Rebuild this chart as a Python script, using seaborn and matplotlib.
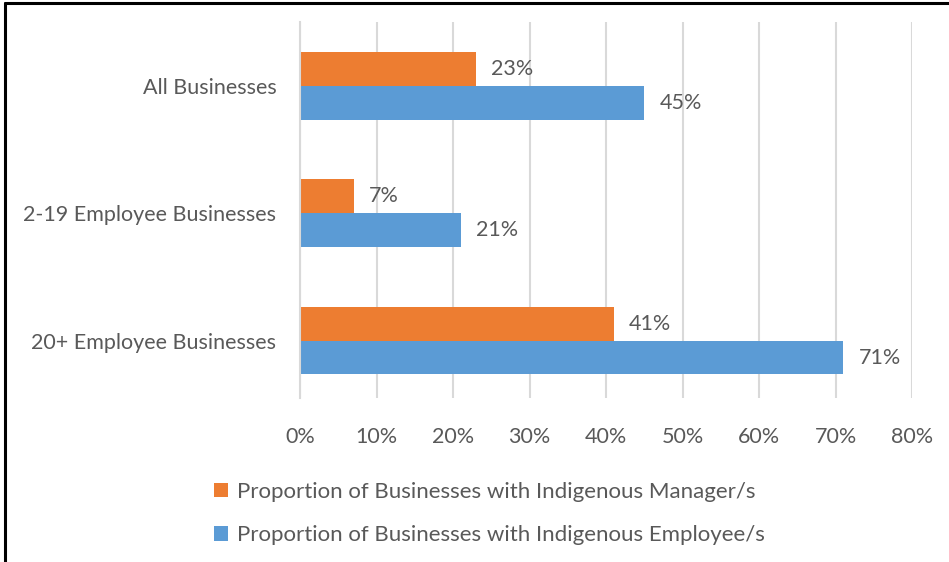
import matplotlib
matplotlib.use("Agg")
import matplotlib.pyplot as plt
import seaborn as sns
import pandas as pd
from matplotlib.lines import Line2D
from matplotlib.patches import Patch

categories = ["All Businesses", "2-19 Employee Businesses", "20+ Employee Businesses"]
series_names = ["Proportion of Businesses with Indigenous Manager/s",
                "Proportion of Businesses with Indigenous Employee/s"]
manager_vals = [0.23, 0.07, 0.41]
employee_vals = [0.45, 0.21, 0.71]
xtick_vals = [0.0, 0.1, 0.2, 0.3, 0.4, 0.5, 0.6, 0.7, 0.8]
xtick_labels = ["0%", "10%", "20%", "30%", "40%", "50%", "60%", "70%", "80%"]

colors = ["#ED7D31", "#5B9BD5"]
text_color = "#595959"
grid_color = "#D9D9D9"

sns.set_theme(style="white")
plt.rcParams["font.family"] = ["Lato", "DejaVu Sans"]

df = pd.DataFrame({
    "category": categories * 2,
    "series": [series_names[0]] * 3 + [series_names[1]] * 3,
    "value": manager_vals + employee_vals,
})

fs = 15.5

fig = plt.figure(figsize=(9.49, 5.62), dpi=100)
ax = fig.add_axes([300 / 949, 1 - 398 / 562, (912 - 300) / 949, (398 - 22) / 562])

sns.barplot(data=df, y="category", x="value", hue="series", order=categories,
            hue_order=series_names, palette=colors, orient="h", width=0.53,
            saturation=1, ax=ax, legend=False, edgecolor="none")

ax.set_xlim(0, 0.8)
ax.set_ylim(2.45, -0.5)
ax.set_xticks(xtick_vals)
ax.set_xticklabels(xtick_labels)
ax.set_xlabel("")
ax.set_ylabel("")
ax.grid(axis="x", color=grid_color, linewidth=1.5)
ax.set_axisbelow(True)
for s in ["top", "right", "bottom"]:
    ax.spines[s].set_visible(False)
ax.spines["left"].set_color(grid_color)
ax.spines["left"].set_linewidth(1.5)
ax.tick_params(axis="x", length=0, pad=21, labelsize=fs, colors=text_color)
ax.tick_params(axis="y", length=0, pad=17, labelsize=fs, colors=text_color)

for cont in ax.containers:
    ax.bar_label(cont, labels=[f"{v * 100:.0f}%" for v in cont.datavalues],
                 padding=11, fontsize=fs, color=text_color)

handles = [Patch(facecolor=c, edgecolor="none") for c in colors]
leg = ax.legend(handles, series_names, loc="upper left",
                bbox_to_anchor=(214 / 949, 1 - 482 / 562),
                bbox_transform=fig.transFigure, frameon=False,
                handlelength=0.62, handleheight=0.62, handletextpad=0.4,
                labelspacing=1.05, borderpad=0, borderaxespad=0,
                prop={"size": 16})
for t in leg.get_texts():
    t.set_color(text_color)

# figure border (top and left)
fig.add_artist(Line2D([5 / 949, 5 / 949], [0, 1 - 3 / 562], color="black",
                      linewidth=2.2, transform=fig.transFigure))
fig.add_artist(Line2D([5 / 949, 1], [1 - 3 / 562, 1 - 3 / 562], color="black",
                      linewidth=2.2, transform=fig.transFigure))

fig.savefig("out.png", dpi=100)
